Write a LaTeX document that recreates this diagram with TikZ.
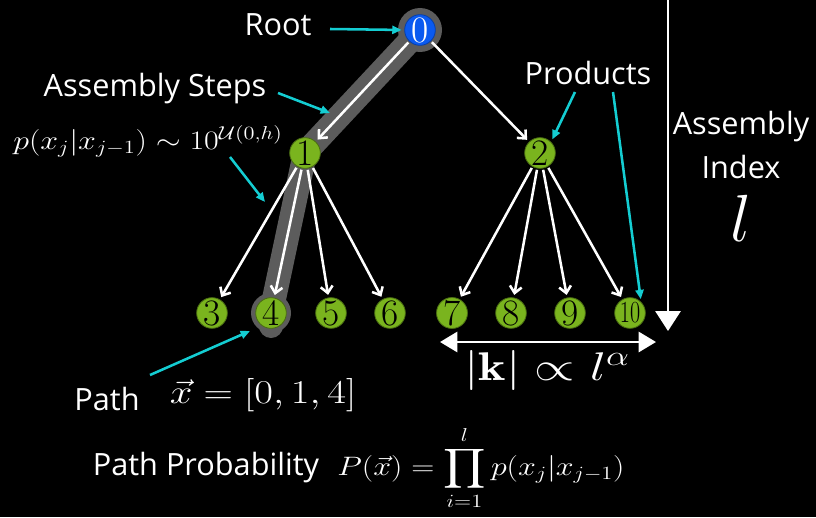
\RequirePackage{fix-cm}
\documentclass[tikz,border=0pt]{standalone}
\usepackage{amsmath}
\usepackage{fontspec}
\newfontfamily\labelfont{Open Sans}
\usetikzlibrary{arrows.meta,calc,backgrounds}
\definecolor{leafgreen}{RGB}{122,180,30}
\definecolor{rootblue}{RGB}{10,90,240}
\definecolor{hintcyan}{RGB}{20,205,210}
\definecolor{hlgray}{RGB}{92,92,92}
\tikzset{
  num/.style={circle, minimum size=23pt, inner sep=0pt, fill=leafgreen, draw=leafgreen!60!black, line width=0.6pt, font=\fontsize{28}{28}\selectfont, text=black},
  rootnum/.style={num, fill=rootblue, draw=rootblue!70!black, text=white},
  tree/.style={draw=white, line width=1.9pt, -{Straight Barb[length=5pt,width=9pt]}, shorten >=2pt, shorten <=1pt},
  hint/.style={draw=hintcyan, line width=1.9pt, -{Triangle[length=7pt,width=6pt]}},
  lbl/.style={text=white, font=\labelfont\fontsize{23}{27}\selectfont, inner sep=0pt},
  mth/.style={text=white, inner sep=0pt},
}
\begin{document}
\begin{tikzpicture}[x=0.75pt,y=-0.75pt]
\useasboundingbox (0,0) rectangle (816,517);

% nodes
\node[rootnum] (n0) at (420,30) {0};
\node[num] (n1) at (305,153) {1};
\node[num] (n2) at (540,153) {2};
\node[num] (n3) at (212,313) {3};
\node[num] (n4) at (271,313) {4};
\node[num] (n5) at (331,313) {5};
\node[num] (n6) at (390,313) {6};
\node[num] (n7) at (452,313) {7};
\node[num] (n8) at (511,313) {8};
\node[num] (n9) at (570,313) {9};
\node[num, font=\fontsize{23}{23}\selectfont] (n10) at (630,313) {\scalebox{0.72}[1]{10}};

% background and highlighted path
\begin{scope}[on background layer]
  \fill[black] (0,0) rectangle (816,517);
  \draw[hlgray, line width=18pt, line cap=round, line join=round]
    (n0.center) -- (n1.center) -- (n4.center) -- ($(n4.center)+(0,13)$);
  \fill[hlgray] (n0.center) circle (16.5pt);
  \fill[hlgray] (n4.center) circle (15pt);
\end{scope}

% tree arrows
\draw[tree] (n0) -- (n1);
\draw[tree] (n0) -- (n2);
\foreach \t in {3,4,5,6} \draw[tree] (n1) -- (n\t);
\foreach \t in {7,8,9,10} \draw[tree] (n2) -- (n\t);

% labels
\node[lbl] (root) at (278,25) {Root};
\node[lbl] (steps) at (155,89) {Assembly Steps};
\node[mth, xscale=1.2] (pform) at (148,141) {\fontsize{20}{24}\selectfont $p(x_j|x_{j-1})\sim 10^{\mathcal{U}(0,h)}$};
\node[lbl] (prod) at (588,73) {Products};
\node[lbl] (asm) at (741,127) {Assembly};
\node[lbl] (idx) at (741,167) {Index};
\node[mth] (ell) at (741,218) {\fontsize{50}{50}\selectfont $l$};
\node[lbl] (path) at (107,399) {Path};
\node[mth, xscale=1.22] (pathf) at (263,395) {\fontsize{25}{28}\selectfont $\vec{x}=[0,1,4]$};
\node[lbl] (pp) at (206,468) {Path Probability};
\node[mth, xscale=1.2] (ppf) at (481,468) {\fontsize{20}{24}\selectfont $\displaystyle P(\vec{x})=\prod_{i=1}^{l}p(x_j|x_{j-1})$};
\node[mth, xscale=1.3] (kf) at (547,370) {\fontsize{30}{34}\selectfont $|\mathbf{k}|\propto l^{\alpha}$};

% hint arrows
\coordinate (c0) at (330,29);
\coordinate (c1a) at (278,93);
\coordinate (c1b) at (330,113);
\coordinate (c2a) at (230,157);
\coordinate (c2b) at (265,202);
\coordinate (c3a) at (575,92);
\coordinate (c4a) at (613,92);
\coordinate (c5a) at (150,375);
\coordinate (c5b) at (250,331);
\draw[hint, shorten >=2pt] (c0) -- (n0.west);
\draw[hint] (c1a) -- (c1b);
\draw[hint] (c2a) -- (c2b);
\draw[hint, shorten >=2pt] (c3a) -- (n2.north east);
\draw[hint, shorten >=2pt] (c4a) -- (n10.north east);
\draw[hint] (c5a) -- (c5b);

% assembly index arrow
\coordinate (vtop) at (668,0);
\coordinate (vbot) at (668,331);
\draw[white, line width=1.5pt, -{Triangle[length=15pt,width=19pt]}] (vtop) -- (vbot);

% k width arrow
\coordinate (hl) at (440,342);
\coordinate (hr) at (656,342);
\draw[white, line width=2.2pt, {Triangle[length=13pt,width=15pt]}-{Triangle[length=13pt,width=15pt]}] (hl) -- (hr);
\end{tikzpicture}
\end{document}
